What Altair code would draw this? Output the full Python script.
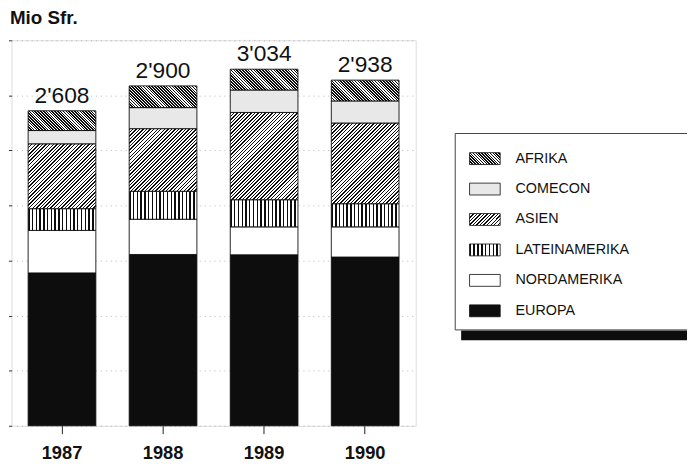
import altair as alt
import pandas as pd

# ---------------- data ----------------
years = ["1987", "1988", "1989", "1990"]
regions = ["EUROPA", "NORDAMERIKA", "LATEINAMERIKA", "ASIEN", "COMECON", "AFRIKA"]  # bottom -> top
europa = [1301, 1458, 1455, 1436]
nordamerika = [362, 300, 238, 257]
lateinamerika = [185, 238, 231, 197]
asien = [552, 533, 743, 687]
comecon = [113, 179, 191, 188]
afrika = [168, 185, 177, 177]
total_labels = ["2'608", "2'900", "3'034", "2'938"]
legend_order = ["AFRIKA", "COMECON", "ASIEN", "LATEINAMERIKA", "NORDAMERIKA", "EUROPA"]

series = {
    "EUROPA": europa,
    "NORDAMERIKA": nordamerika,
    "LATEINAMERIKA": lateinamerika,
    "ASIEN": asien,
    "COMECON": comecon,
    "AFRIKA": afrika,
}

rows = []
for i, yr in enumerate(years):
    for k, r in enumerate(regions):
        rows.append({"year": yr, "region": r, "order": k,
                     "value": series[r][i], "label": total_labels[i]})
df = pd.DataFrame(rows)
legend_df = pd.DataFrame({"region": legend_order})

# ---------------- styling ----------------
FONT = "Liberation Sans"
INK = "#0d0d0d"
PLOT_W, PLOT_H = 409, 390
Y_MAX = 3281
PAD_IN, PAD_OUT = 0.33, 0.165
BAR_W = PLOT_W / 4 * (1 - PAD_IN)


def hatch(n, frac, p1, p2, ink=INK, paper="white"):
    stops = []
    for k in range(n):
        a = k / n
        b = (k + frac) / n
        c = (k + 1) / n
        stops += [
            {"offset": a, "color": ink},
            {"offset": b, "color": ink},
            {"offset": b, "color": paper},
            {"offset": c, "color": paper},
        ]
    return {"gradient": "linear", "x1": p1[0], "y1": p1[1],
            "x2": p2[0], "y2": p2[1], "stops": stops}


def fill_for(region, w, h):
    if region == "EUROPA":
        return INK
    if region == "NORDAMERIKA":
        return "white"
    if region == "COMECON":
        return "#e8e8e8"
    if region == "LATEINAMERIKA":
        return hatch(max(1, round(w / 3.8)), 0.38, (0, 0), (1, 0))
    s = (w + h) / (w * w + h * h)
    if region == "ASIEN":
        return hatch(max(1, round((w + h) / 3.6)), 0.4, (0, 0), (s * w, s * h))
    # AFRIKA
    return hatch(max(1, round((w + h) / 2.9)), 0.56, (0, 1), (s * w, 1 - s * h))


yscale = alt.Scale(domain=[0, Y_MAX], nice=False, zero=True)
yaxis = alt.Axis(title=None, labels=False, tickSize=3, tickColor="#333",
                 values=[Y_MAX * k / 7 for k in range(8)], grid=True,
                 gridColor="#999", gridDash=[1, 4], gridOpacity=0.7, domain=False)
x_enc = alt.X("year:N", sort=years,
              scale=alt.Scale(paddingInner=PAD_IN, paddingOuter=PAD_OUT),
              axis=alt.Axis(title=None, labelAngle=0, labelFontSize=18.5, labelFont=FONT,
                            labelFontWeight="bold", labelColor="#111", tickSize=8,
                            tickColor="#222", domain=False, labelPadding=10, grid=False))

base = alt.Chart(df).transform_stack(
    stack="value", groupby=["year"], as_=["y0", "y1"],
    sort=[alt.SortField("order", order="ascending")])

bar_layers = []
for i, yr in enumerate(years):
    for r in regions:
        h = series[r][i] / Y_MAX * PLOT_H
        bar_layers.append(
            base.transform_filter(f"datum.region == '{r}' && datum.year == '{yr}'")
            .mark_bar(color=fill_for(r, BAR_W, h), stroke=INK, strokeWidth=0.9)
            .encode(x=x_enc,
                    y=alt.Y("y0:Q", scale=yscale, axis=yaxis),
                    y2="y1:Q")
        )

labels = alt.Chart(df).transform_aggregate(
    total="sum(value)", groupby=["year", "label"]
).mark_text(baseline="alphabetic", dy=-8, fontSize=23, font=FONT, color="#111").encode(
    x=x_enc, y=alt.Y("total:Q", scale=yscale, axis=yaxis), text="label:N")

bars = alt.layer(*bar_layers, labels)

# ---------------- legend ----------------
legscale = alt.Scale(domain=legend_order, range=[104.3, 289.1],
                     paddingInner=0.61, paddingOuter=0.305)
one = alt.Chart(legend_df).transform_aggregate(n="count()")
shadow = one.mark_rect(fill=INK).encode(
    x=alt.value(455), x2=alt.value(700), y=alt.value(293.5), y2=alt.value(303.5))
box = one.mark_rect(fill="white", stroke="#444", strokeWidth=1).encode(
    x=alt.value(449), x2=alt.value(700), y=alt.value(94.3), y2=alt.value(293))

sw_layers = []
for r in legend_order:
    sw_layers.append(
        alt.Chart(legend_df).transform_filter(f"datum.region == '{r}'")
        .mark_rect(color=fill_for(r, 31, 12), stroke=INK, strokeWidth=0.8)
        .encode(x=alt.value(463.5), x2=alt.value(494.5),
                y=alt.Y("region:N", scale=legscale, axis=None))
    )
leg_text = alt.Chart(legend_df).mark_text(
    align="left", baseline="middle", fontSize=14.5, font=FONT, color="#111"
).encode(x=alt.value(510), y=alt.Y("region:N", scale=legscale, axis=None), text="region:N")

legend = alt.layer(shadow, box, *sw_layers, leg_text)

chart = alt.layer(bars, legend).resolve_scale(y="independent").properties(
    width=PLOT_W, height=PLOT_H,
    title=alt.TitleParams("Mio Sfr.", anchor="start", frame="group", fontSize=19,
                          font=FONT, fontWeight="bold", color="#111",
                          offset=12, dx=-1.5),
    autosize=alt.AutoSizeParams(type="none"),
    padding={"left": 3.5, "top": 30, "right": 274.5, "bottom": 36},
).configure_view(stroke="#222", strokeWidth=1).configure(background="white")

chart.save("out.html", embed_options={"renderer": "svg", "actions": False})
